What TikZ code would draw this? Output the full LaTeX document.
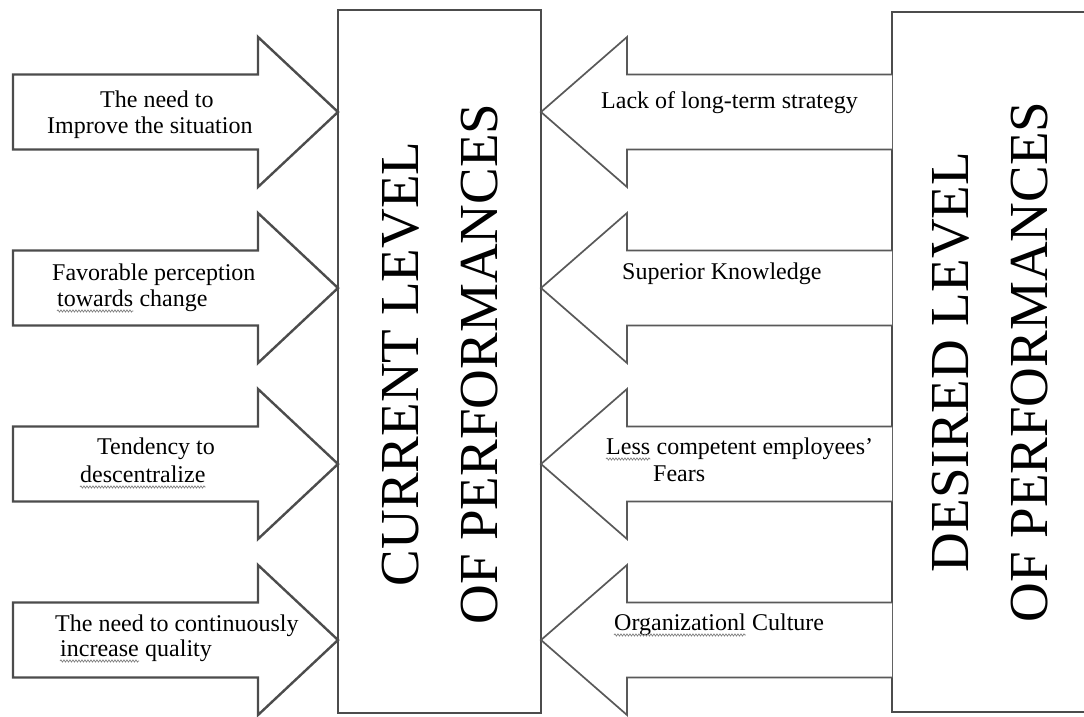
\documentclass[tikz,border=0pt]{standalone}
\usepackage{fontspec}
\setmainfont{Liberation Serif}
\usetikzlibrary{decorations.pathmorphing}
\begin{document}
\begin{tikzpicture}[x=1pt,y=-1pt,
  lab/.style={anchor=base west, inner sep=0pt, font=\fontsize{24}{27}\selectfont},
  big/.style={rotate=90, align=center, inner sep=0pt, font=\fontsize{55}{79}\selectfont},
  larrow/.style={draw=black!70, line width=2.4pt, fill=white, line join=miter},
  rarrow/.style={draw=black!65, line width=1.7pt, fill=white, line join=miter},
  panel/.style={draw=black!70, line width=2pt, fill=white},
  squig/.style={draw=gray, line width=0.7pt, decorate, decoration={snake, amplitude=1.1pt, segment length=3pt}}]
\useasboundingbox (0,0) rectangle (1084,716);
\fill[white] (0,0) rectangle (1084,716);
\clip (0,0) rectangle (1084,716);
% level boxes
\node[panel, minimum width=203, minimum height=703, inner sep=0pt] (current) at (439.5,361.5) {};
\node[panel, minimum width=260, minimum height=700, inner sep=0pt] (desired) at (1022,362) {};
% arrows
\foreach \c in {112,288,464,640} {
  \draw[larrow] (13,\c-37.5) -- (258,\c-37.5) -- (258,\c-75) -- (338,\c) -- (258,\c+75) -- (258,\c+37.5) -- (13,\c+37.5) -- cycle;
  \draw[rarrow] (892,\c-37.5) -- (627,\c-37.5) -- (627,\c-75) -- (541,\c) -- (627,\c+75) -- (627,\c+37.5) -- (892,\c+37.5);
}
% big labels
\node[big] (curtxt) at (440,364) {CURRENT LEVEL\\OF PERFORMANCES};
\node[big] (destxt) at (990,362) {DESIRED LEVEL\\OF PERFORMANCES};
% left labels
\node[lab] (l1a) at (100,107) {The need to};
\node[lab] (l1b) at (47,133) {Improve the situation};
\node[lab] (l2a) at (52,280) {Favorable perception};
\node[lab] (l2b) at (57,306) {towards};
\node[lab] (l2c) at ([xshift=6pt]l2b.base east) {change};
\node[lab] (l3a) at (97,454) {Tendency to};
\node[lab] (l3b) at (80,482) {descentralize};
\node[lab] (l4a) at (55,631) {The need to continuously};
\node[lab] (l4b) at (60,656) {increase};
\node[lab] (l4c) at ([xshift=6pt]l4b.base east) {quality};
% right labels
\node[lab] (r1) at (601,108) {Lack of long-term strategy};
\node[lab] (r2) at (622,279) {Superior Knowledge};
\node[lab] (r3a) at (606,454) {Less};
\node[lab] (r3c) at ([xshift=6pt]r3a.base east) {competent employees’};
\node[lab] (r3b) at (653,481) {Fears};
\node[lab] (r4) at (614,630) {Organizationl};
\node[lab] (r4c) at ([xshift=6pt]r4.base east) {Culture};
% spelling squiggles
\foreach \w in {l2b,l3b,l4b,r3a,r4}
  \draw[squig] ([yshift=-5pt]\w.base west) -- ([yshift=-5pt]\w.base east);
\end{tikzpicture}
\end{document}
